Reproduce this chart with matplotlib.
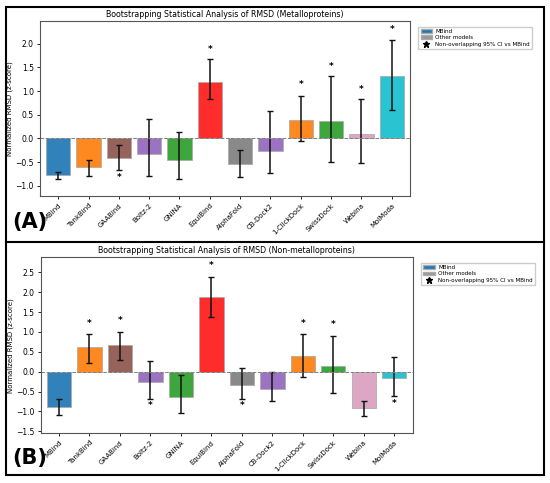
import matplotlib
matplotlib.use("Agg")
import matplotlib.pyplot as plt
from matplotlib.patches import Patch, Rectangle
from matplotlib.lines import Line2D

models = ["MBind", "TankBind", "GAABind", "Boltz-2", "GNINA", "EquiBind", "AlphaFold",
          "CB-Dock2", "1-ClickDock", "SwissDock", "Webina", "MolModa"]
colors = ["#1f77b4", "#ff7f0e", "#8c564b", "#9467bd", "#2ca02c", "#ff1a1a", "#7f7f7f",
          "#9467bd", "#ff7f0e", "#2ca02c", "#dc9fc0", "#17becf"]

# panel A: metalloproteins
metal_mean = [-0.78, -0.61, -0.41, -0.33, -0.46, 1.19, -0.55, -0.26, 0.39, 0.37, 0.10, 1.31]
metal_lo = [-0.86, -0.79, -0.67, -0.80, -0.85, 0.83, -0.81, -0.74, -0.06, -0.49, -0.53, 0.60]
metal_hi = [-0.70, -0.45, -0.14, 0.42, 0.13, 1.67, -0.24, 0.58, 0.90, 1.31, 0.83, 2.08]
metal_star = [None, None, -0.83, None, None, 1.89, None, None, 1.13, 1.53, 1.04, 2.30]

# panel B: non-metalloproteins
nonmetal_mean = [-0.88, 0.61, 0.66, -0.26, -0.63, 1.87, -0.33, -0.43, 0.40, 0.14, -0.92, -0.17]
nonmetal_lo = [-1.09, 0.23, 0.29, -0.69, -1.05, 1.37, -0.68, -0.75, -0.14, -0.53, -1.12, -0.61]
nonmetal_hi = [-0.70, 0.95, 1.01, 0.28, -0.09, 2.38, 0.08, -0.02, 0.94, 0.91, -0.74, 0.36]
nonmetal_star = [None, 1.22, 1.28, -0.86, None, 2.66, -0.86, None, 1.22, 1.19, None, -0.80]


def draw_panel(ax, mean, lo, hi, stars, title, ylim, ticks):
    x = list(range(len(models)))
    err = [[m - l for m, l in zip(mean, lo)], [h - m for m, h in zip(mean, hi)]]
    ax.bar(x, mean, width=0.8, color=colors, alpha=0.92, edgecolor="#aaaaaa", linewidth=0.6)
    ax.errorbar(x, mean, yerr=err, fmt="none", ecolor="#111111", elinewidth=1.1,
                capsize=2, capthick=1.0)
    ax.axhline(0, color="gray", linestyle="--", linewidth=0.7)
    for xi, s in zip(x, stars):
        if s is not None:
            ax.text(xi, s, "*", ha="center", va="center", fontsize=6.5, fontweight="bold")
    ax.set_ylim(*ylim)
    ax.set_yticks(ticks)
    ax.set_xlim(-0.6, len(models) - 0.4)
    ax.set_xticks(x)
    ax.set_xticklabels(models, rotation=45, ha="right", rotation_mode="anchor", fontsize=5)
    ax.tick_params(axis="y", labelsize=5.5, length=2.5, width=0.6, pad=2)
    ax.tick_params(axis="x", length=2.5, width=0.6, pad=2)
    ax.set_ylabel("Normalized RMSD (z-score)", fontsize=5)
    ax.yaxis.set_label_coords(-0.072, 0.5)
    ax.set_title(title, fontsize=5.7, pad=3)
    for sp in ax.spines.values():
        sp.set_linewidth(0.8)
        sp.set_color("#555555")
    handles = [Patch(facecolor="#1f77b4", edgecolor="#aaaaaa", label="MBind"),
               Patch(facecolor="#999999", edgecolor="#aaaaaa", label="Other models"),
               Line2D([], [], marker="*", color="black", linestyle="none", markersize=5,
                      label="Non-overlapping 95% CI vs MBind")]
    ax.legend(handles=handles, loc="upper left", bbox_to_anchor=(1.015, 0.985), fontsize=4.1,
              handlelength=2.0, handleheight=0.6, handletextpad=0.6, borderpad=0.4,
              labelspacing=0.25, framealpha=1, fancybox=False, edgecolor="#cccccc")


fig = plt.figure(figsize=(5.5, 4.83), dpi=100)
axA = fig.add_axes([0.0727, 0.594, 0.6727, 0.3623])
axB = fig.add_axes([0.074, 0.103, 0.676, 0.3644])

draw_panel(axA, metal_mean, metal_lo, metal_hi, metal_star,
           "Bootstrapping Statistical Analysis of RMSD (Metalloproteins)",
           (-1.22, 2.48), [-1.0, -0.5, 0.0, 0.5, 1.0, 1.5, 2.0])
draw_panel(axB, nonmetal_mean, nonmetal_lo, nonmetal_hi, nonmetal_star,
           "Bootstrapping Statistical Analysis of RMSD (Non-metalloproteins)",
           (-1.55, 2.88), [-1.5, -1.0, -0.5, 0.0, 0.5, 1.0, 1.5, 2.0, 2.5])

# panel frames
fig.add_artist(Rectangle((6 / 550, 1 - 475 / 483), 538 / 550, 468 / 483, transform=fig.transFigure,
                         fill=False, edgecolor="black", linewidth=1.5))
fig.add_artist(Line2D([6 / 550, 544 / 550], [1 - 242 / 483, 1 - 242 / 483], transform=fig.transFigure,
                      color="black", linewidth=1.5))

fig.text(12 / 550, 1 - 222 / 483, "(A)", fontsize=15, fontweight="bold", va="center", ha="left")
fig.text(12 / 550, 1 - 458 / 483, "(B)", fontsize=15, fontweight="bold", va="center", ha="left")

fig.savefig("out.png", dpi=100)
